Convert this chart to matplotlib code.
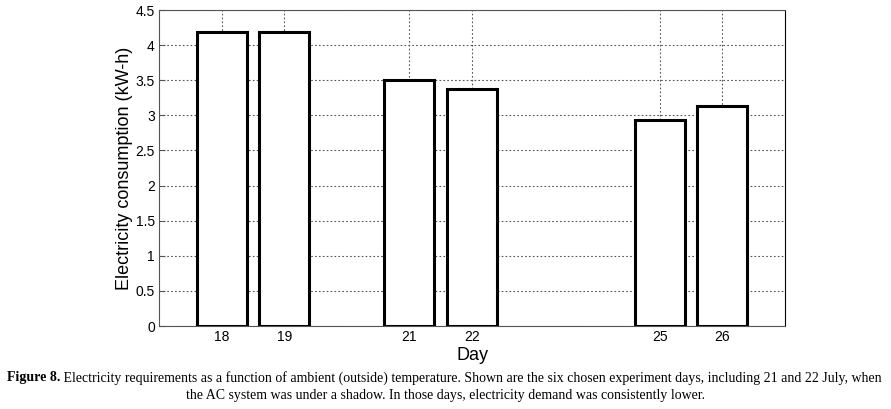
import numpy as np
import matplotlib
matplotlib.use("Agg")
import matplotlib.pyplot as plt

days = [18, 19, 21, 22, 25, 26]
consumption = [4.18, 4.19, 3.50, 3.37, 2.93, 3.14]
yticks = [0, 0.5, 1, 1.5, 2, 2.5, 3, 3.5, 4, 4.5]
ytick_labels = ["0", "0.5", "1", "1.5", "2", "2.5", "3", "3.5", "4", "4.5"]

caption_bold = "Figure 8."
caption_line1 = (" Electricity requirements as a function of ambient (outside) temperature. "
                 "Shown are the six chosen experiment days, including 21 and 22 July, when")
caption_line2 = ("the AC system was under a shadow. In those days, electricity demand "
                 "was consistently lower.")

plt.rcParams["font.family"] = ["Liberation Sans", "DejaVu Sans"]

fig = plt.figure(figsize=(8.91, 4.09), dpi=100)
ax = fig.add_axes([159 / 891, 1 - 326 / 409, (785 - 159) / 891, (326 - 10) / 409])

ax.bar(days, consumption, width=0.8, color="white", edgecolor="black", linewidth=2.2, zorder=3)

ax.set_xlim(17, 27)
ax.set_ylim(0, 4.5)
ax.set_xticks(days)
ax.set_xticklabels([str(d) for d in days], fontsize=10)
ax.set_yticks(yticks)
ax.set_yticklabels(ytick_labels, fontsize=10)
ax.tick_params(direction="in", length=4, color="#555555")
ax.tick_params(axis="y", pad=3)
ax.tick_params(axis="x", pad=3)
ax.grid(True, linestyle=(0, (1.5, 2)), color="#555555", linewidth=0.8, zorder=0)
for s in ax.spines.values():
    s.set_color("#555555")
    s.set_linewidth(0.8)
ax.spines["right"].set_color("black")

ax.set_xlabel("Day", fontsize=13, labelpad=2)
ax.set_ylabel("Electricity consumption (kW-h)", fontsize=13, labelpad=2)

# caption with bold lead-in
serif = ["Liberation Serif", "DejaVu Serif"]
renderer = fig.canvas.get_renderer()
t1 = fig.text(7 / 891, 1 - 378 / 409, caption_bold, family=serif, fontsize=10,
              fontweight="bold", va="center", ha="left")
bb = t1.get_window_extent(renderer)
fig.text(bb.x1 / 891, 1 - 378 / 409, caption_line1, family=serif, fontsize=10,
         va="center", ha="left")
fig.text(0.5, 1 - 396 / 409, caption_line2, family=serif, fontsize=10,
         va="center", ha="center")

fig.savefig("out.png", dpi=100)
